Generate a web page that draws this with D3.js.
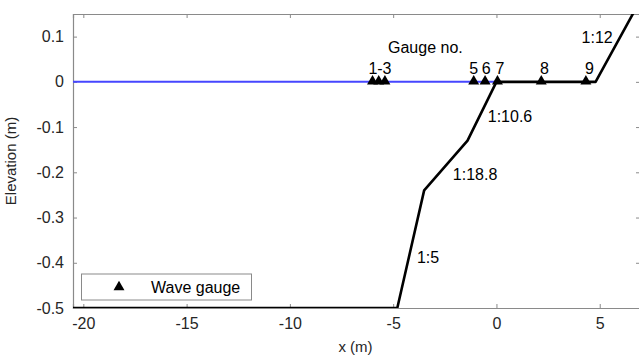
<!DOCTYPE html>
<html><head><meta charset="utf-8">
<script src="https://cdn.jsdelivr.net/npm/d3@7"></script>
<style>body{margin:0;background:#fff;} text{font-family:"Liberation Sans",Arial,sans-serif;}</style>
</head><body><svg id="c" width="639" height="359"></svg>
<script>
// Data
const bedX = [-20.5, -4.8, -3.5, -1.4, 0.0, 4.8, 6.95];
const bedZ = [-0.5, -0.5, -0.24, -0.13, 0.0, 0.0, 0.179];
const swlX = [-20.5, 0.0];
const swlZ = [0, 0];
const gaugeX = [-6.0, -5.7, -5.4, -1.1, -0.55, 0.05, 2.17, 4.33];
const gaugeZ = [0, 0, 0, 0, 0, 0, 0, 0];
const gaugeLabels = ["1-3", "5", "6", "7", "8", "9"];
const gaugeLabelX = [-5.64, -1.1, -0.5, 0.17, 2.33, 4.5];
const slopeLabels = ["1:12", "1:10.6", "1:18.8", "1:5"];
const slopeLabelX = [4.12, -0.42, -2.11, -3.85];
const slopeLabelZ = [0.086, -0.089, -0.217, -0.401];
const xTicks = [-20, -15, -10, -5, 0, 5];
const yTicks = [0.1, 0, -0.1, -0.2, -0.3, -0.4, -0.5];

const svg = d3.select("#c");
const L = 73, T = 14, R = 640, B = 308;
const x = d3.scaleLinear().domain([-20.5, 6.95]).range([L, R]);
const y = d3.scaleLinear().domain([-0.5, 0.15]).range([B, T]);
const axisCol = "#8a8a8a", txtCol = "#262626";

const defs = svg.append("defs");
defs.append("clipPath").attr("id","clip").append("rect")
  .attr("x", L).attr("y", T).attr("width", R - L).attr("height", B - T);

// Axes
const gx = svg.append("g").attr("transform", `translate(0,${B})`)
  .call(d3.axisBottom(x).tickValues(xTicks).tickSize(-4).tickPadding(10).tickFormat(d => String(d)));
const gxt = svg.append("g").attr("transform", `translate(0,${T})`)
  .call(d3.axisTop(x).tickValues(xTicks).tickSize(-4).tickFormat(""));
const gy = svg.append("g").attr("transform", `translate(${L},0)`)
  .call(d3.axisLeft(y).tickValues(yTicks).tickSize(-4).tickPadding(9).tickFormat(d => String(d)));
const gyr = svg.append("g").attr("transform", `translate(${R},0)`)
  .call(d3.axisRight(y).tickValues(yTicks).tickSize(-4).tickFormat(""));
[gx, gxt, gy, gyr].forEach(g => {
  g.select(".domain").attr("stroke", axisCol).attr("stroke-width", 1.2);
  g.selectAll(".tick line").attr("stroke", axisCol);
  g.selectAll(".tick text").attr("fill", txtCol).attr("font-size", 16);
});

const line = d3.line().x(d => x(d[0])).y(d => y(d[1]));
const plot = svg.append("g").attr("clip-path", "url(#clip)");
plot.append("path").datum(swlX.map((v, i) => [v, swlZ[i]]))
  .attr("d", line).attr("fill", "none").attr("stroke", "#4646ff").attr("stroke-width", 2);
plot.append("path").datum(bedX.map((v, i) => [v, bedZ[i]]))
  .attr("d", line).attr("fill", "none").attr("stroke", "#000").attr("stroke-width", 2.6)
  .attr("stroke-linejoin", "round");

// gauges
const tri = d3.symbol().type(d3.symbolTriangle).size(52);
plot.selectAll(".g").data(gaugeX.map((v, i) => [v, gaugeZ[i]])).join("path")
  .attr("d", tri).attr("transform", d => `translate(${x(d[0])},${y(d[1]) - 0.5})`).attr("fill", "#000");

// labels
svg.selectAll(".gl").data(gaugeLabels).join("text")
  .attr("x", (d, i) => x(gaugeLabelX[i])).attr("y", y(0.017)).attr("text-anchor", "middle")
  .attr("font-size", 16).attr("fill", "#000").text(d => d);
svg.append("text").attr("x", x(-5.25)).attr("y", y(0.0635)).attr("font-size", 16).attr("fill", "#000").text("Gauge no.");
svg.selectAll(".sl").data(slopeLabels).join("text")
  .attr("x", (d, i) => x(slopeLabelX[i])).attr("y", (d, i) => y(slopeLabelZ[i]))
  .attr("font-size", 16).attr("fill", "#000").text(d => d);

// axis titles
svg.append("text").attr("x", L + (R - L) / 2 - 1).attr("y", 352).attr("text-anchor", "middle")
  .attr("font-size", 15).attr("fill", txtCol).text("x (m)");
svg.append("text").attr("transform", `translate(16,${(T + B) / 2}) rotate(-90)`).attr("text-anchor", "middle")
  .attr("font-size", 15).attr("fill", txtCol).text("Elevation (m)");

// legend
const lg = svg.append("g");
lg.append("rect").attr("x", 81.5).attr("y", 274).attr("width", 170).attr("height", 26)
  .attr("fill", "#fff").attr("stroke", axisCol).attr("stroke-width", 1);
lg.append("path").attr("d", tri).attr("transform", "translate(119,287)").attr("fill", "#000");
lg.append("text").attr("x", 151).attr("y", 293).attr("font-size", 16).attr("fill", "#000").text("Wave gauge");
</script></body></html>
